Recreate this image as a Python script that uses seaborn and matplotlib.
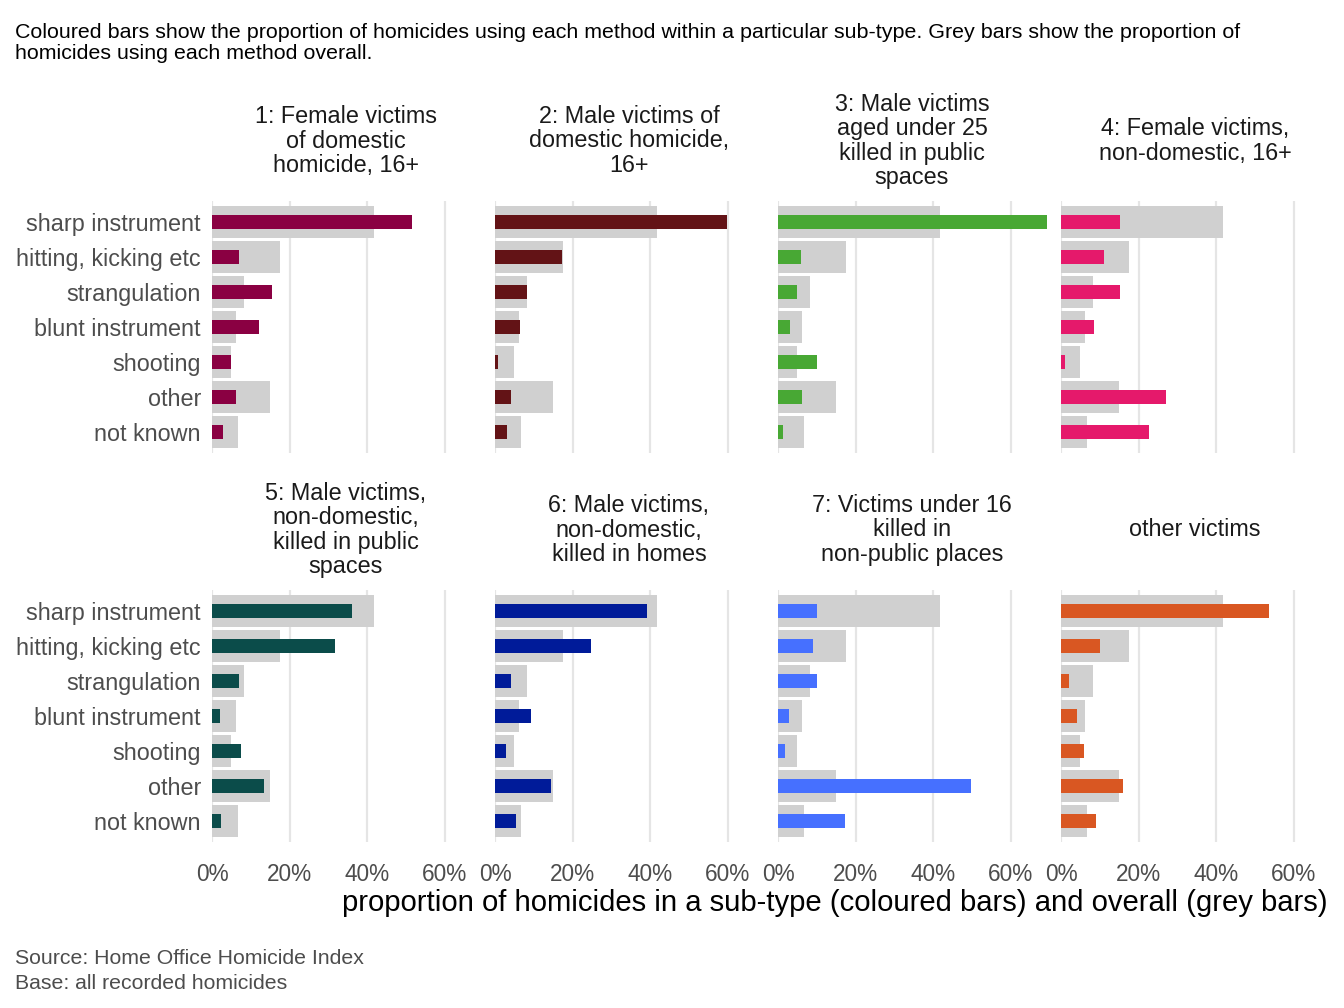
import matplotlib
matplotlib.use("Agg")
import matplotlib.pyplot as plt
import seaborn as sns

# Data (percent of homicides by method)
methods = ["sharp instrument", "hitting, kicking etc", "strangulation",
           "blunt instrument", "shooting", "other", "not known"]
overall = [41.8, 17.6, 8.3, 6.3, 5.0, 15.0, 6.7]

titles = [
    "1: Female victims\nof domestic\nhomicide, 16+",
    "2: Male victims of\ndomestic homicide,\n16+",
    "3: Male victims\naged under 25\nkilled in public\nspaces",
    "4: Female victims,\nnon-domestic, 16+",
    "5: Male victims,\nnon-domestic,\nkilled in public\nspaces",
    "6: Male victims,\nnon-domestic,\nkilled in homes",
    "7: Victims under 16\nkilled in\nnon-public places",
    "other victims",
]
colours = ["#8A0042", "#631316", "#48A834", "#E5196B",
           "#0B4C4A", "#001B99", "#4670FF", "#D95722"]

female_domestic = [51.6, 7.0, 15.5, 12.2, 5.0, 6.3, 2.9]
male_domestic = [59.9, 17.3, 8.2, 6.5, 0.7, 4.2, 3.0]
male_under25_public = [69.2, 5.9, 4.9, 3.0, 10.0, 6.3, 1.2]
female_nondomestic = [15.2, 11.1, 15.2, 8.5, 1.0, 27.1, 22.7]
male_nondom_public = [36.1, 31.8, 7.0, 2.1, 7.6, 13.5, 2.4]
male_nondom_homes = [39.1, 24.8, 4.2, 9.3, 2.9, 14.5, 5.4]
under16_nonpublic = [10.0, 8.9, 10.0, 2.8, 1.7, 49.7, 17.2]
other_victims = [53.6, 10.0, 2.0, 4.1, 5.9, 15.9, 9.0]

subtype_values = [female_domestic, male_domestic, male_under25_public,
                  female_nondomestic, male_nondom_public, male_nondom_homes,
                  under16_nonpublic, other_victims]

sns.set_theme(style="white")
plt.rcParams["font.family"] = ["Liberation Sans", "DejaVu Sans"]

W, H = 1344, 1008
fig = plt.figure(figsize=(W / 100, H / 100), dpi=100)

grey = "#D0D0D0"
grid_col = "#E5E5E5"

for i, (title, vals, col) in enumerate(zip(titles, subtype_values, colours)):
    row, c = divmod(i, 4)
    left = 212 + 283 * c
    top = 201 if row == 0 else 590
    ax = fig.add_axes([left / W, 1 - (top + 252) / H, 268.5 / W, 252 / H])
    sns.barplot(x=overall, y=methods, color=grey, width=0.9, saturation=1,
                linewidth=0, edgecolor="none", ax=ax, zorder=2)
    sns.barplot(x=vals, y=methods, color=col, width=0.4, saturation=1,
                linewidth=0, edgecolor="none", ax=ax, zorder=3)
    ax.set_xlim(0, 69.2)
    ax.set_ylim(6.6, -0.6)
    ax.set_xticks([0, 20, 40, 60])
    ax.set_xticklabels(["0%", "20%", "40%", "60%"])
    ax.grid(axis="x", color=grid_col, linewidth=1.6, zorder=0)
    ax.grid(axis="y", visible=False)
    ax.set_axisbelow(True)
    for s in ax.spines.values():
        s.set_visible(False)
    ax.set_xlabel("")
    ax.set_ylabel("")
    ax.tick_params(axis="y", length=0, pad=8, labelsize=16.8,
                   labelcolor="#4D4D4D")
    ax.tick_params(axis="x", length=4, width=1.6, color=grid_col, pad=11,
                   labelsize=16.3, labelcolor="#4D4D4D")
    if c != 0:
        ax.set_yticklabels([])
    if row == 0:
        ax.tick_params(axis="x", labelbottom=False, length=0)

    strip_y = 141 if row == 0 else 530
    fig.text((left + 134) / W, 1 - strip_y / H, title, ha="center",
             va="center", multialignment="center", fontsize=16.8,
             color="#1A1A1A", linespacing=1.06)

fig.text(15 / W, 1 - 43 / H,
         "Coloured bars show the proportion of homicides using each method "
         "within a particular sub-type. Grey bars show the proportion of\n"
         "homicides using each method overall.",
         ha="left", va="center", fontsize=15.4, color="black", linespacing=1.16)

fig.text(1328 / W, 1 - 903 / H,
         "proportion of homicides in a sub-type (coloured bars) and overall (grey bars)",
         ha="right", va="center", fontsize=21.1, color="black")

fig.text(15 / W, 1 - 971 / H,
         "Source: Home Office Homicide Index\nBase: all recorded homicides",
         ha="left", va="center", fontsize=15.3, color="#4D4D4D", linespacing=1.34)

fig.savefig("out.png", dpi=100)
